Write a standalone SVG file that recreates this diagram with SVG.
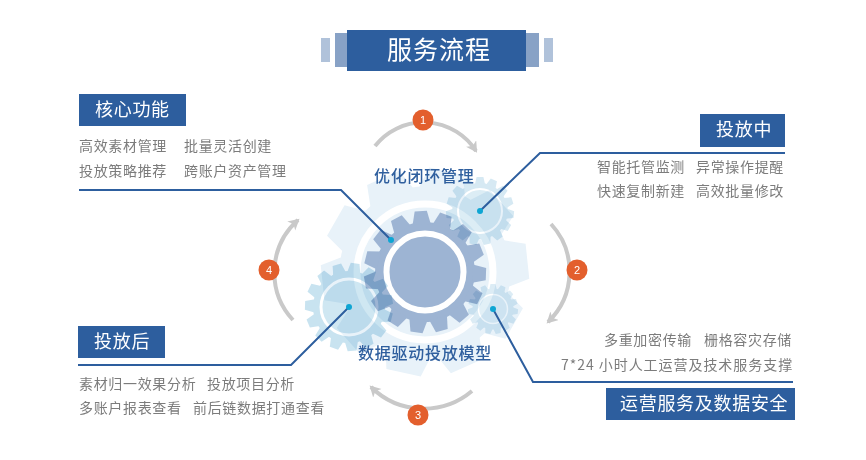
<svg xmlns="http://www.w3.org/2000/svg" width="866" height="460" viewBox="0 0 866 460">
<defs>
<marker id="ah" markerUnits="userSpaceOnUse" markerWidth="14" markerHeight="14" refX="9" refY="6" orient="auto"><path d="M0 0L11 6L0 12L3 6Z" fill="#c9c9c9"/></marker>
<path id="tooth" d="M-15-78L-10-100H10L15-78Z"/>
<path id="bigtooth" d="M-23-78L-17-100H17L23-78Z"/>
<g id="gear15"><circle r="82"/>
<use href="#tooth"/><use href="#tooth" transform="rotate(24)"/><use href="#tooth" transform="rotate(48)"/><use href="#tooth" transform="rotate(72)"/><use href="#tooth" transform="rotate(96)"/><use href="#tooth" transform="rotate(120)"/><use href="#tooth" transform="rotate(144)"/><use href="#tooth" transform="rotate(168)"/><use href="#tooth" transform="rotate(192)"/><use href="#tooth" transform="rotate(216)"/><use href="#tooth" transform="rotate(240)"/><use href="#tooth" transform="rotate(264)"/><use href="#tooth" transform="rotate(288)"/><use href="#tooth" transform="rotate(312)"/><use href="#tooth" transform="rotate(336)"/></g>
<g id="gear10"><circle r="83"/>
<use href="#bigtooth"/><use href="#bigtooth" transform="rotate(36)"/><use href="#bigtooth" transform="rotate(72)"/><use href="#bigtooth" transform="rotate(108)"/><use href="#bigtooth" transform="rotate(144)"/><use href="#bigtooth" transform="rotate(180)"/><use href="#bigtooth" transform="rotate(216)"/><use href="#bigtooth" transform="rotate(252)"/><use href="#bigtooth" transform="rotate(288)"/><use href="#bigtooth" transform="rotate(324)"/></g>
</defs>
<style>
text{font-family:"Noto Sans CJK SC","Noto Sans",sans-serif}
.t{font-size:14px;fill:#7c7c7c;letter-spacing:.67px}
.b{font-size:18px;fill:#fff;letter-spacing:.7px}
.c{font-size:16px;fill:#2f5f9e;font-weight:500;letter-spacing:.75px}
.n{font-size:11px;fill:#fff;text-anchor:middle;font-family:"Liberation Sans",sans-serif}
.box{fill:#2d5e9e}
.ln{fill:none;stroke:#2d5e9e;stroke-width:2}
.arc{fill:none;stroke:#c9c9c9;stroke-width:4}
.bd{fill:#e35f2d}
.dot{fill:#0ea5d3}
.ring{fill:none;stroke:#fff}
.mul{mix-blend-mode:multiply}
</style>
<g id="title"><rect x="321" y="38" width="9" height="24" fill="#b0c2da"/><rect x="544" y="38" width="9" height="24" fill="#b0c2da"/><rect x="335" y="33" width="13" height="34" fill="#88a2c6"/><rect x="526" y="33" width="13" height="34" fill="#88a2c6"/><rect class="box" x="347" y="30" width="179" height="41"/><text x="387" y="59" font-size="25" letter-spacing="1" fill="#fff">服务流程</text></g>
<g id="gears">
<g id="gear-pale"><use href="#gear10" fill="#e8f2f9" transform="translate(425 272) rotate(12) scale(1.03)"/><circle class="ring" cx="425" cy="272" r="68" stroke-width="7"/></g>
<g id="gear-main"><use href="#gear15" fill="#9db4d3" transform="translate(425 272) rotate(-4) scale(.61)"/><circle class="ring" cx="425" cy="272" r="38.5" stroke-width="6"/></g>
<g id="gear-top" class="mul"><use href="#gear15" fill="#d6e9f3" transform="translate(480 211) scale(.34)"/><circle cx="480" cy="211" r="22" fill="#dcedf5" stroke="#fff" stroke-width="2"/></g>
<g id="gear-left" class="mul"><use href="#gear15" fill="#c8e3f0" transform="translate(349 307) rotate(8) scale(.44)"/><circle cx="349" cy="307" r="28" fill="#cfe7f2" stroke="#fff" stroke-width="3"/></g>
<g id="gear-small" class="mul"><use href="#gear15" fill="#dcecf5" transform="translate(493 309) scale(.25)"/><circle cx="493" cy="309" r="14.5" fill="#e2f0f7" stroke="#fff" stroke-width="1.5"/></g>
</g>
<g id="connectors">
<path class="arc" d="M375 146A62 62 0 0 1 476 151" marker-end="url(#ah)"/>
<path class="arc" d="M551 224A70 70 0 0 1 548 322" marker-end="url(#ah)"/>
<path class="arc" d="M472 391A75 75 0 0 1 371 387" marker-end="url(#ah)"/>
<path class="arc" d="M293 320A70 70 0 0 1 298 220" marker-end="url(#ah)"/>
<path class="ln" d="M79 190H341L391 240"/>
<path class="ln" d="M785 153H540L480 211"/>
<path class="ln" d="M78 365H291L349 307"/>
<path class="ln" d="M793 382H533L493 309"/>
<circle class="dot" cx="391" cy="240" r="3"/><circle class="dot" cx="480" cy="211" r="3"/><circle class="dot" cx="349" cy="307" r="3"/><circle class="dot" cx="493" cy="309" r="3"/>
</g>
<g id="step-1"><circle class="bd" cx="423" cy="120" r="10.5"/><text class="n" x="423" y="124">1</text></g>
<g id="step-2"><circle class="bd" cx="577" cy="270" r="10.5"/><text class="n" x="577" y="274">2</text></g>
<g id="step-3"><circle class="bd" cx="418" cy="415" r="10.5"/><text class="n" x="418" y="419">3</text></g>
<g id="step-4"><circle class="bd" cx="269" cy="270" r="10.5"/><text class="n" x="269" y="274">4</text></g>
<g id="center-labels"><text class="c" x="374" y="182">优化闭环管理</text><text class="c" x="358" y="359">数据驱动投放模型</text></g>
<g id="core"><rect class="box" x="79" y="94" width="107" height="32"/><text class="b" x="95" y="116">核心功能</text><text class="t" x="79" y="151">高效素材管理</text><text class="t" x="184" y="151">批量灵活创建</text><text class="t" x="79" y="176">投放策略推荐</text><text class="t" x="184" y="176">跨账户资产管理</text></g>
<g id="during"><rect class="box" x="700" y="114" width="85" height="33"/><text class="b" x="716" y="136">投放中</text><text class="t" x="597" y="172">智能托管监测</text><text class="t" x="696" y="172">异常操作提醒</text><text class="t" x="597" y="196">快速复制新建</text><text class="t" x="696" y="196">高效批量修改</text></g>
<g id="after"><rect class="box" x="78" y="326" width="87" height="32"/><text class="b" x="94" y="348">投放后</text><text class="t" x="79" y="389">素材归一效果分析</text><text class="t" x="207" y="389">投放项目分析</text><text class="t" x="79" y="413">多账户报表查看</text><text class="t" x="193" y="413">前后链数据打通查看</text></g>
<g id="ops"><rect class="box" x="606" y="388" width="189" height="32"/><text class="b" x="620" y="410">运营服务及数据安全</text><text class="t" x="604" y="345">多重加密传输</text><text class="t" x="704" y="345">栅格容灾存储</text><text class="t" x="561" y="370" style="letter-spacing:.95px">7*24 小时人工运营及技术服务支撑</text></g>
</svg>
